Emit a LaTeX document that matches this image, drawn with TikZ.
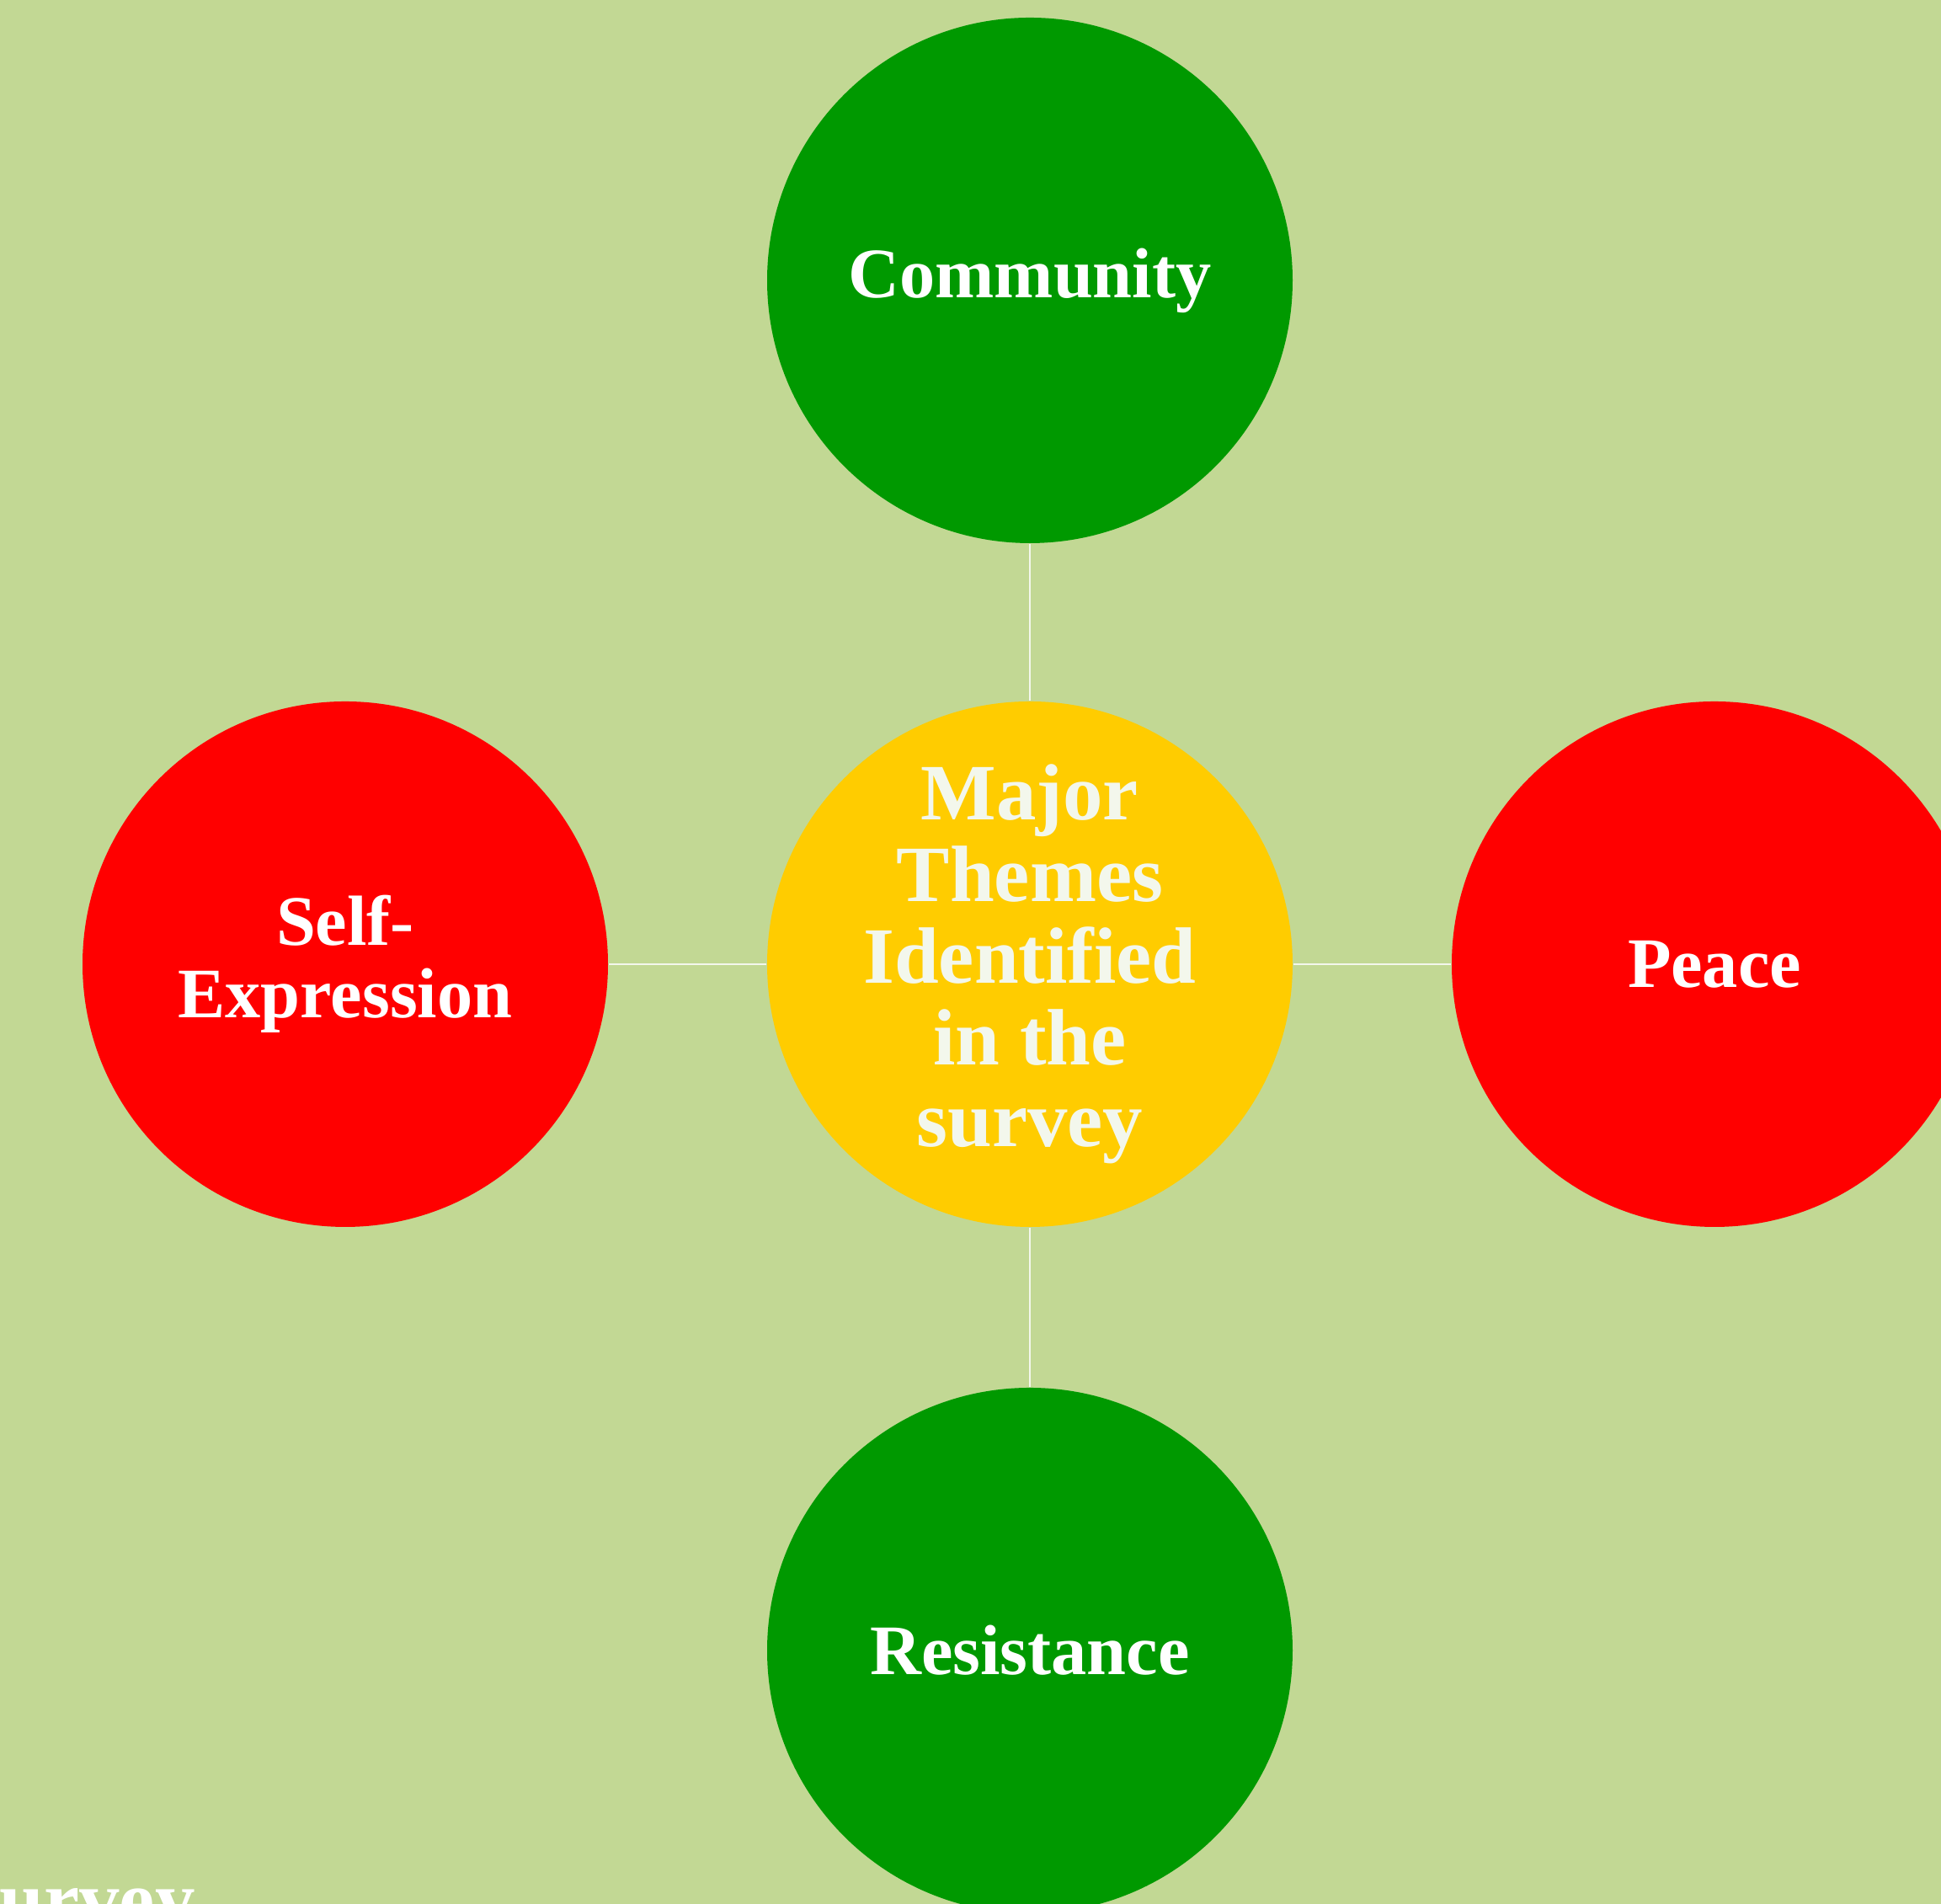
\documentclass[tikz,border=0pt]{standalone}
\usepackage{fontspec}
\setmainfont{Liberation Serif}
\usetikzlibrary{positioning}

\definecolor{bgolive}{RGB}{194,216,148}
\definecolor{themegreen}{RGB}{0,153,0}
\definecolor{themered}{RGB}{255,0,0}
\definecolor{themegold}{RGB}{255,204,0}
\definecolor{paletext}{RGB}{243,247,236}

\tikzset{
    theme/.style={circle, minimum size=6.24cm, inner sep=0pt, text=white,
        font=\fontsize{24}{24.5}\selectfont\bfseries, align=center},
    hub/.style={theme, fill=themegold, text=paletext,
        font=\fontsize{27}{27.6}\selectfont\bfseries},
    link/.style={draw=paletext, line width=0.7pt}
}

\begin{document}
\begin{tikzpicture}
    % page and background
    \useasboundingbox (0,0) rectangle (23.05,22.61);
    \clip (0,0) rectangle (23.05,22.61);
    \fill[bgolive] (0,0) rectangle (23.05,22.61);

    % centre theme
    \node[hub] (major) at (12.23,11.16) {Major\\Themes\\Identified\\in the\\survey};

    % surrounding themes
    \node[theme, fill=themegreen] (community) at (12.23,19.28) {Community};
    \node[theme, fill=themered] (selfexpr) at (4.10,11.16) {Self-\\Expression};
    \node[theme, fill=themered] (peace) at (20.36,11.16) {Peace};
    \node[theme, fill=themegreen] (resistance) at (12.23,3.01) {Resistance};

    % links
    \draw[link] (major) -- (community);
    \draw[link] (major) -- (selfexpr);
    \draw[link] (major) -- (peace);
    \draw[link] (major) -- (resistance);

    % stray label, cut by the page edge
    \node[anchor=base west, inner sep=0pt, text=white,
        font=\fontsize{27}{28}\selectfont\bfseries] (stray) at (-0.38,-0.27) {survey};
\end{tikzpicture}
\end{document}
